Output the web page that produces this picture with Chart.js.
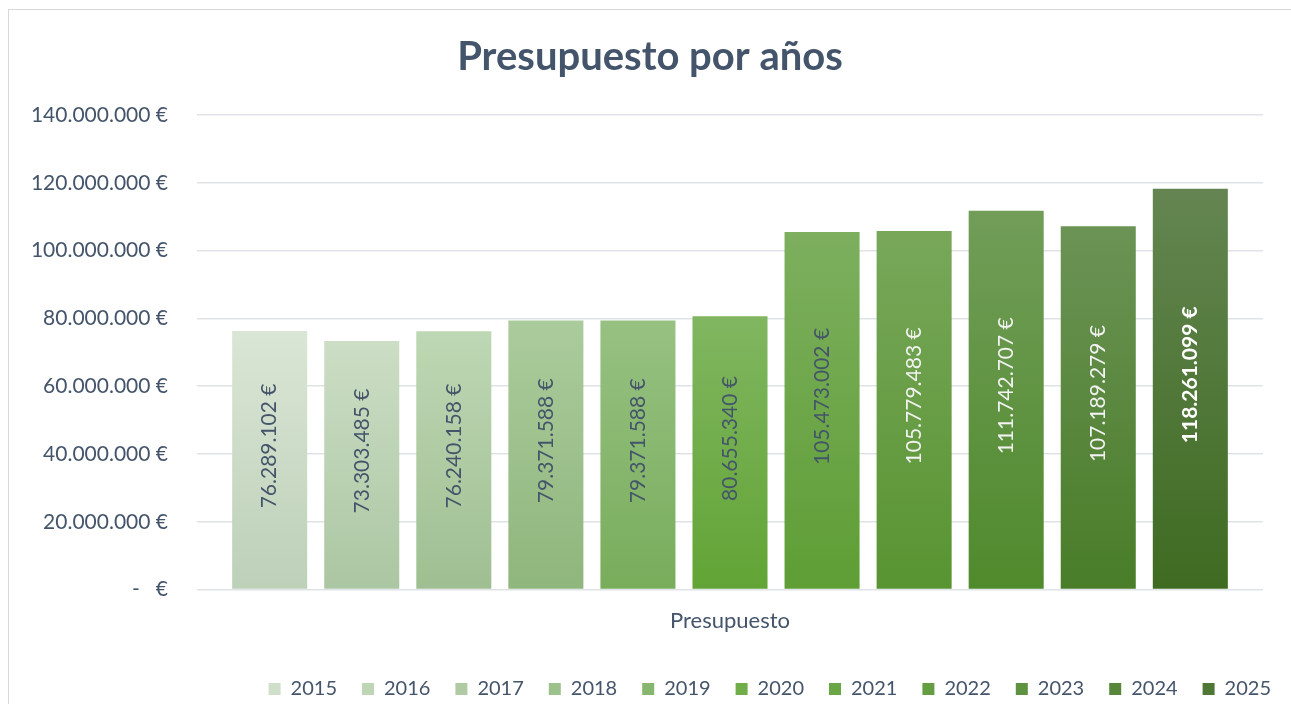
<!DOCTYPE html>
<html lang="es">
<head>
    <meta charset="UTF-8">
    <title>Presupuesto por años</title>
    <script src="https://cdn.jsdelivr.net/npm/chart.js"></script>
    <style>
        html, body {
            margin: 0;
            padding: 0;
            background: #ffffff;
        }
        .frame {
            position: absolute;
            left: 8px;
            top: 9px;
            width: 1300px;
            height: 720px;
            border-left: 1px solid #d9d9d9;
            border-top: 1px solid #d9d9d9;
        }
        .chart-box {
            position: absolute;
            left: 0;
            top: 0;
            width: 1291px;
            height: 704px;
        }
    </style>
</head>
<body>
    <div class="frame"></div>
    <div class="chart-box">
        <canvas id="budgetChart"></canvas>
    </div>

    <script>
        // datos del gráfico
        const categories = ['Presupuesto'];
        const years = ['2015', '2016', '2017', '2018', '2019', '2020', '2021', '2022', '2023', '2024', '2025'];
        const budgets = [76289102, 73303485, 76240158, 79371588, 79371588, 80655340, 105473002, 105779483, 111742707, 107189279, 118261099];
        const yTicks = [0, 20000000, 40000000, 60000000, 80000000, 100000000, 120000000, 140000000];

        // colores (degradado arriba -> abajo)
        const topColors = ['#dae6d5', '#ccdec5', '#bed7b4', '#abcb9c', '#97c182', '#80b660', '#7daf5e', '#78a75a', '#719d58', '#6b9355', '#648551'];
        const bottomColors = ['#bdd0b8', '#abc6a2', '#9fbf92', '#8fb67c', '#78ad5b', '#62a435', '#5e9e35', '#589431', '#4f8a2c', '#497d28', '#3e6b21'];
        const legendColors = ['#cfdfca', '#bfd5b6', '#b0cba4', '#9dc18c', '#87b76e', '#6fae48', '#6ba646', '#659d43', '#5e9240', '#58873c', '#4f7837'];
        const labelColors = ['#44546a', '#44546a', '#44546a', '#44546a', '#44546a', '#44546a', '#44546a', '#f2f2f2', '#f2f2f2', '#f2f2f2', '#ffffff'];

        const textColor = '#44546a';
        const fontFamily = 'Lato, "Noto Sans", sans-serif';

        function euros(v) {
            if (v === 0) return '-   €';
            return String(v).replace(/\B(?=(\d{3})+(?!\d))/g, '.') + ' €';
        }

        function barGradient(ctx) {
            const i = ctx.datasetIndex;
            const chart = ctx.chart;
            if (!chart.chartArea || ctx.type !== 'data') return legendColors[i];
            const y = chart.scales.y;
            const top = y.getPixelForValue(ctx.raw);
            const bottom = y.getPixelForValue(0);
            const g = chart.ctx.createLinearGradient(0, top, 0, bottom);
            g.addColorStop(0, topColors[i]);
            g.addColorStop(1, bottomColors[i]);
            return g;
        }

        // etiquetas de valor giradas dentro de cada barra
        const valueLabels = {
            id: 'valueLabels',
            afterDatasetsDraw(chart) {
                const c = chart.ctx;
                chart.data.datasets.forEach((ds, i) => {
                    const meta = chart.getDatasetMeta(i);
                    meta.data.forEach((bar, j) => {
                        const cy = (bar.y + bar.base) / 2 - 14;
                        c.save();
                        c.translate(bar.x, cy);
                        c.rotate(-Math.PI / 2);
                        c.font = (i === years.length - 1 ? 'bold ' : '') + '21px ' + fontFamily;
                        c.fillStyle = labelColors[i];
                        c.textAlign = 'center';
                        c.textBaseline = 'middle';
                        c.fillText(euros(ds.data[j]), 0, 0);
                        c.restore();
                    });
                });
            }
        };

        const datasets = years.map((year, i) => ({
            label: year,
            data: [budgets[i]],
            backgroundColor: barGradient,
            borderWidth: 0,
            barPercentage: 0.815,
            categoryPercentage: 0.95
        }));

        new Chart(document.getElementById('budgetChart'), {
            type: 'bar',
            data: {
                labels: categories,
                datasets: datasets
            },
            options: {
                responsive: true,
                maintainAspectRatio: false,
                animation: false,
                events: [],
                layout: {
                    padding: { left: 4, right: -5, top: 0, bottom: -5 }
                },
                plugins: {
                    title: {
                        display: true,
                        text: 'Presupuesto por años',
                        color: textColor,
                        font: { family: fontFamily, size: 40, weight: 'bold', lineHeight: 1.2 },
                        padding: { top: 33, bottom: 34 }
                    },
                    legend: {
                        position: 'bottom',
                        align: 'end',
                        labels: {
                            color: textColor,
                            font: { family: fontFamily, size: 20 },
                            boxWidth: 12,
                            boxHeight: 12,
                            padding: 25,
                            generateLabels: (chart) => years.map((year, i) => ({
                                text: year,
                                fillStyle: legendColors[i],
                                strokeStyle: legendColors[i],
                                lineWidth: 0,
                                fontColor: textColor,
                                datasetIndex: i,
                                hidden: false
                            }))
                        }
                    },
                    tooltip: { enabled: false }
                },
                scales: {
                    x: {
                        grid: { display: false },
                        border: { display: false },
                        ticks: {
                            color: textColor,
                            font: { family: fontFamily, size: 22 },
                            padding: 10
                        },
                        afterFit: (scale) => {
                            scale.height += 10;
                        }
                    },
                    y: {
                        min: 0,
                        max: 140000000,
                        afterBuildTicks: (scale) => {
                            scale.ticks = yTicks.map(v => ({ value: v }));
                        },
                        afterFit: (scale) => {
                            scale.width = 193;
                        },
                        grid: {
                            color: '#dfe3e8',
                            lineWidth: 1.5,
                            drawTicks: false
                        },
                        border: { display: false },
                        ticks: {
                            color: textColor,
                            font: { family: fontFamily, size: 21 },
                            padding: 29,
                            callback: (v) => euros(v)
                        }
                    },
                    // eje vacío a la derecha: deja el hueco del área de trazado
                    spacer: {
                        position: 'right',
                        grid: { display: false },
                        border: { display: false },
                        ticks: { display: false },
                        afterFit: (scale) => {
                            scale.width = 33;
                        }
                    }
                }
            },
            plugins: [valueLabels]
        });
    </script>
</body>
</html>
